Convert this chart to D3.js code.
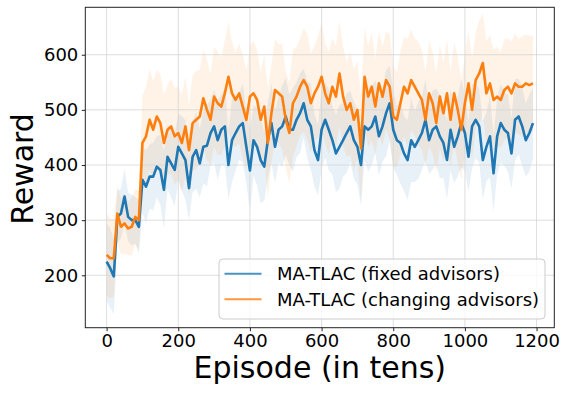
<!DOCTYPE html>
<html><head><meta charset="utf-8">
<script src="https://cdn.jsdelivr.net/npm/d3@7"></script>
<style>body{margin:0;background:#fff}svg{display:block}text{font-family:"DejaVu Sans",sans-serif;fill:#000}</style>
</head><body><svg id="c" width="569" height="394"></svg>
<script>
const episodes = d3.range(0, 1200, 10);
const fixedMean = [225,213,198,306,312,343,306,300,300,288, 373,361,379,379,397,391,355,415,403,391,
 433,421,409,358,415,427,403,433,435,458, 470,445,464,470,400,445,458,470,476,433,
 390,445,433,409,397,445,476,433,464,470, 488,464,464,482,494,512,482,470,427,409,
 464,482,464,445,421,433,445,458,470,445, 433,400,470,464,470,488,452,470,494,512,
 464,445,440,421,409,445,433,445,458,482, 445,464,470,452,440,409,464,433,452,476,
 458,415,470,482,470,409,433,452,385,452, 476,464,458,421,482,488,470,445,458,476];
const changingMean = [237,231,231,312,288,294,285,288,306,300, 440,452,482,464,488,476,440,464,470,452,
 458,440,470,427,476,482,488,521,500,482, 524,512,506,530,560,530,518,530,506,482,
 524,530,518,482,506,440,494,536,530,524, 482,458,512,524,542,554,542,512,530,542,
 560,530,512,542,524,566,524,500,512,482, 500,430,560,524,542,506,548,524,554,542,
 488,482,512,542,530,554,542,530,518,482, 530,512,476,524,494,530,482,530,500,464,
 512,548,500,554,566,585,530,548,518,524, 518,536,542,530,548,542,542,548,545,548];
const fixedSpread = [70,72,68,48,45,50,44,46,42,48, 60,66,58,62,55,64,70,58,62,66,
 60,68,72,58,64,70,62,66,74,60, 66,72,64,70,62,76,68,60,72,66,
 74,64,70,78,62,68,72,66,60,74, 70,64,76,68,72,62,70,78,66,64,
 72,68,74,62,70,76,66,72,64,70, 68,74,62,76,70,66,72,64,78,68,
 70,62,74,68,72,76,64,70,66,74, 62,72,68,76,64,70,74,66,72,80,
 68,64,76,70,66,72,62,74,70,68, 72,66,70,64,74,68,72,66,70,64];
const changingSpread = [75,72,70,52,50,55,48,52,50,54, 85,90,92,88,84,90,86,82,86,88,
 84,88,90,82,86,90,84,88,92,82, 90,94,88,96,100,92,86,90,94,88,
 92,96,90,86,94,98,88,92,90,96, 86,92,98,90,88,94,96,90,86,92,
 98,90,94,88,92,96,90,86,94,92, 88,96,90,92,98,86,94,90,88,96,
 92,86,94,90,98,92,88,94,90,86, 96,92,88,94,90,98,86,92,96,90,
 88,94,92,86,96,90,94,88,92,90, 86,92,88,94,90,86,92,88,90,86];
const xTicks = [0,200,400,600,800,1000,1200];
const yTicks = [200,300,400,500,600];
const seriesNames = ["MA-TLAC (fixed advisors)","MA-TLAC (changing advisors)"];
const colors = ["#1f77b4","#ff7f0e"];

const svg = d3.select("#c");
const L=85.3,R=554.3,T=7.3,B=327.7;
const x = d3.scaleLinear().domain([-59.5,1249.5]).range([L,R]);
const y = d3.scaleLinear().domain([105,686]).range([B,T]);

const series = [
  {mean:fixedMean, spread:fixedSpread, color:colors[0], name:seriesNames[0]},
  {mean:changingMean, spread:changingSpread, color:colors[1], name:seriesNames[1]}
];
const rows = s => episodes.map((e,i)=>({e, m:s.mean[i], s:s.spread[i]}));

// bands
series.forEach(s=>{
  svg.append("path").datum(rows(s))
    .attr("d", d3.area().x(d=>x(d.e)).y0(d=>y(d.m-d.s)).y1(d=>y(d.m+d.s)))
    .attr("fill", s.color).attr("fill-opacity",0.1);
});
// grid
const g = svg.append("g").attr("stroke","#d6d6d6").attr("stroke-width",0.8);
xTicks.forEach(t=>g.append("line").attr("x1",x(t)).attr("x2",x(t)).attr("y1",T).attr("y2",B));
yTicks.forEach(t=>g.append("line").attr("y1",y(t)).attr("y2",y(t)).attr("x1",L).attr("x2",R));
// lines
series.forEach(s=>{
  svg.append("path").datum(rows(s))
    .attr("d", d3.line().x(d=>x(d.e)).y(d=>y(d.m)))
    .attr("fill","none").attr("stroke",s.color).attr("stroke-width",2.6).attr("stroke-linejoin","round");
});
// axes
const xa = svg.append("g").attr("transform",`translate(0,${B})`)
  .call(d3.axisBottom(x).tickValues(xTicks).tickSize(3.5).tickPadding(3.5).tickFormat(d3.format("d")));
const ya = svg.append("g").attr("transform",`translate(${L},0)`)
  .call(d3.axisLeft(y).tickValues(yTicks).tickSize(3.5).tickPadding(3.5).tickFormat(d3.format("d")));
[xa,ya].forEach(a=>{a.select(".domain").remove();
  a.selectAll("text").attr("font-size",18).attr("font-family","DejaVu Sans").attr("fill","#000");
  a.selectAll("line").attr("stroke","#222");});
svg.append("rect").attr("x",L).attr("y",T).attr("width",R-L).attr("height",B-T)
  .attr("fill","none").attr("stroke","#222").attr("stroke-width",1);
// labels
svg.append("text").attr("x",(L+R)/2).attr("y",378).attr("text-anchor","middle").attr("font-size",30).text("Episode (in tens)");
svg.append("text").attr("transform","translate(33,169) rotate(-90)").attr("text-anchor","middle").attr("font-size",30).text("Reward");
// legend
const lg = svg.append("g");
lg.append("rect").attr("x",219).attr("y",259).attr("width",326).attr("height",60).attr("rx",4)
  .attr("fill","#fff").attr("fill-opacity",0.8).attr("stroke","#cccccc").attr("stroke-width",1);
series.forEach((s,i)=>{
  const yy = 273.8 + i*25.5;
  lg.append("line").attr("x1",224.5).attr("x2",261.5).attr("y1",yy).attr("y2",yy)
    .attr("stroke",s.color).attr("stroke-width",2).attr("stroke-opacity",0.8);
  lg.append("text").attr("x",277).attr("y",yy+6.3).attr("font-size",18).text(s.name);
});
</script></body></html>
